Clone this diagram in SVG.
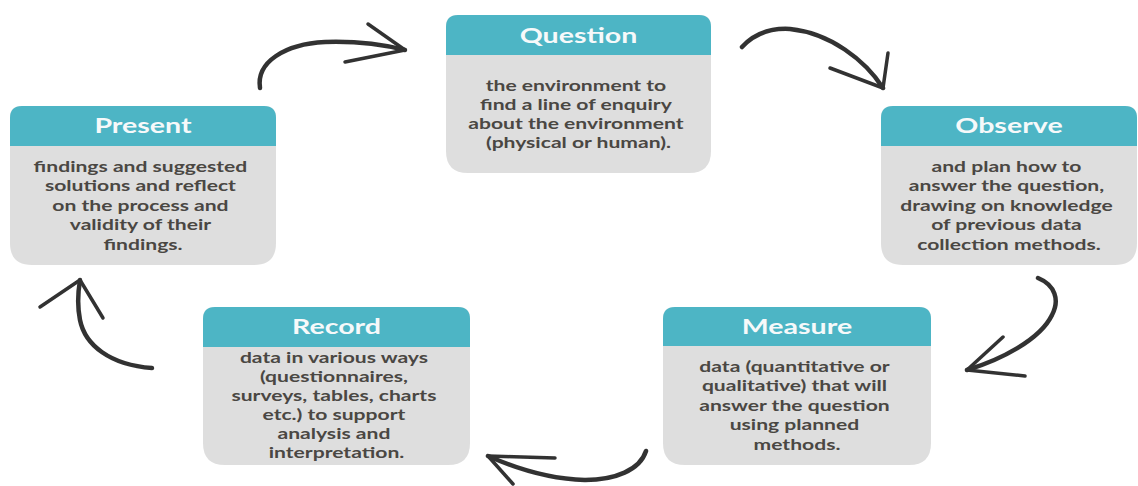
<svg xmlns="http://www.w3.org/2000/svg" width="1138" height="486" viewBox="0 0 1138 486">
  <defs>
    <style>
      .card { fill: #dedede; }
      .head { fill: #4db5c5; }
      .title { font-family: Lato, "Open Sans", "Liberation Sans", sans-serif; font-weight: 700; font-size: 21px; fill: #f6f9fa; text-anchor: middle; }
      .body { font-family: Lato, "Open Sans", "Liberation Sans", sans-serif; font-weight: 700; font-size: 15.5px; fill: #4a4743; text-anchor: middle; }
      .arrow { fill: none; stroke: #333333; stroke-width: 4.5; stroke-linecap: round; stroke-linejoin: round; }
      .barb { fill: none; stroke: #333333; stroke-width: 3.5; stroke-linecap: round; stroke-linejoin: round; }
    </style>
    <filter id="soft" x="-10%" y="-10%" width="120%" height="120%">
      <feGaussianBlur stdDeviation="0.6"/>
    </filter>
  </defs>

  <rect width="1138" height="486" fill="#ffffff"/>

  <!-- cycle connectors -->
  <g id="connectors" filter="url(#soft)">
    <!-- Present to Question -->
    <path class="arrow" d="M260,88 C256,62 285,44 325,42 C355,41 385,45 405,50"/>
    <path class="barb" d="M368,24 L405,50 L345,62"/>
    <!-- Question to Observe -->
    <path class="arrow" d="M742,47 C755,33 772,28 790,29 C830,33 865,60 883,88"/>
    <path class="barb" d="M888,53 L883,88 L830,68"/>
    <!-- Observe to Measure -->
    <path class="arrow" d="M1038,278 C1055,285 1060,300 1052,315 C1040,340 1000,360 967,370"/>
    <path class="barb" d="M1003,337 L967,370 L1025,376"/>
    <!-- Measure to Record -->
    <path class="arrow" d="M646,451 C640,470 615,480 585,480 C550,479 515,468 488,456"/>
    <path class="barb" d="M555,458 L488,456 L513,484"/>
    <!-- Record to Present -->
    <path class="arrow" d="M152,368 C110,365 85,345 80,320 C77,305 78,292 80,280"/>
    <path class="barb" d="M40,307 L80,280 L103,318"/>
  </g>

  <!-- Question -->
  <g id="node-question">
    <path class="card" d="M458,15 H699 Q711,15 711,27 V151 Q711,173 689,173 H468 Q446,173 446,151 V27 Q446,15 458,15 Z"/>
    <path class="head" d="M446,55 V27 Q446,15 458,15 H699 Q711,15 711,27 V55 Z"/>
    <text class="title" transform="translate(578.5,0) scale(1.36,1)" x="0" y="43">Question</text>
    <text class="body" transform="translate(578.5,0) scale(1.36,1)">
      <tspan x="0" y="91">the environment to</tspan>
      <tspan x="0" y="110">find a line of enquiry</tspan>
      <tspan x="0" y="129">about the environment</tspan>
      <tspan x="0" y="148">(physical or human).</tspan>
    </text>
  </g>

  <!-- Observe -->
  <g id="node-observe">
    <path class="card" d="M893,106 H1125 Q1137,106 1137,118 V243 Q1137,265 1115,265 H903 Q881,265 881,243 V118 Q881,106 893,106 Z"/>
    <path class="head" d="M881,146 V118 Q881,106 893,106 H1125 Q1137,106 1137,118 V146 Z"/>
    <text class="title" transform="translate(1009,0) scale(1.36,1)" x="0" y="133">Observe</text>
    <text class="body" transform="translate(1009,0) scale(1.36,1)">
      <tspan x="0" y="172">and plan how to</tspan>
      <tspan x="0" y="191.5">answer the question,</tspan>
      <tspan x="0" y="211">drawing on knowledge</tspan>
      <tspan x="0" y="230.5">of previous data</tspan>
      <tspan x="0" y="250">collection methods.</tspan>
    </text>
  </g>

  <!-- Measure -->
  <g id="node-measure">
    <path class="card" d="M675,307 H919 Q931,307 931,319 V443 Q931,465 909,465 H685 Q663,465 663,443 V319 Q663,307 675,307 Z"/>
    <path class="head" d="M663,346 V319 Q663,307 675,307 H919 Q931,307 931,319 V346 Z"/>
    <text class="title" transform="translate(797,0) scale(1.36,1)" x="0" y="334">Measure</text>
    <text class="body" transform="translate(797,0) scale(1.36,1)">
      <tspan x="0" y="372">data (quantitative or</tspan>
      <tspan x="0" y="391.5">qualitative) that will</tspan>
      <tspan x="0" y="411">answer the question</tspan>
      <tspan x="0" y="430.5">using planned</tspan>
      <tspan x="0" y="450">methods.</tspan>
    </text>
  </g>

  <!-- Record -->
  <g id="node-record">
    <path class="card" d="M215,307 H458 Q470,307 470,319 V443 Q470,465 448,465 H225 Q203,465 203,443 V319 Q203,307 215,307 Z"/>
    <path class="head" d="M203,347 V319 Q203,307 215,307 H458 Q470,307 470,319 V347 Z"/>
    <text class="title" transform="translate(336.5,0) scale(1.36,1)" x="0" y="334">Record</text>
    <text class="body" transform="translate(336.5,0) scale(1.36,1)">
      <tspan x="0" y="363">data in various ways</tspan>
      <tspan x="0" y="382">(questionnaires,</tspan>
      <tspan x="0" y="401">surveys, tables, charts</tspan>
      <tspan x="0" y="420">etc.) to support</tspan>
      <tspan x="0" y="439">analysis and</tspan>
      <tspan x="0" y="458">interpretation.</tspan>
    </text>
  </g>

  <!-- Present -->
  <g id="node-present">
    <path class="card" d="M22,106 H264 Q276,106 276,118 V243 Q276,265 254,265 H32 Q10,265 10,243 V118 Q10,106 22,106 Z"/>
    <path class="head" d="M10,146 V118 Q10,106 22,106 H264 Q276,106 276,118 V146 Z"/>
    <text class="title" transform="translate(143,0) scale(1.36,1)" x="0" y="133">Present</text>
    <text class="body" transform="translate(143,0) scale(1.36,1)">
      <tspan x="0" y="172">findings and suggested</tspan>
      <tspan x="0" y="191.5">solutions and reflect</tspan>
      <tspan x="0" y="211">on the process and</tspan>
      <tspan x="0" y="230.5">validity of their</tspan>
      <tspan x="0" y="250">findings.</tspan>
    </text>
  </g>
</svg>
